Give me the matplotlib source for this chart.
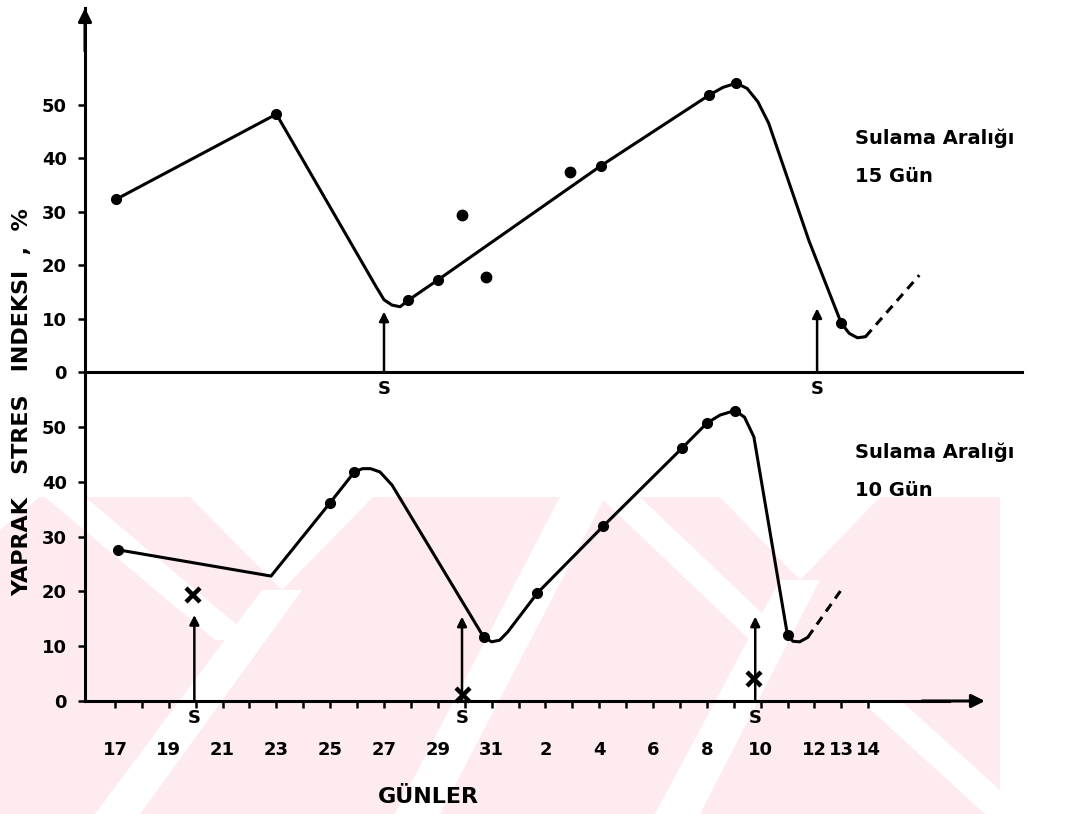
import matplotlib
matplotlib.use("Agg")
import matplotlib.pyplot as plt
from matplotlib.patches import Polygon

plt.rcParams['font.family'] = 'DejaVu Sans'
plt.rcParams['font.weight'] = 'bold'

# days counted from 17th; days of next month are +31 (2 -> 33)
tick_days = [17, 19, 21, 23, 25, 27, 29, 31, 33, 35, 37, 39, 41, 43, 44, 45]
tick_labels = ['17', '19', '21', '23', '25', '27', '29', '31',
               '2', '4', '6', '8', '10', '12', '13', '14']
y_ticks = [0, 10, 20, 30, 40, 50]

# 15 day irrigation interval (top)
top_curve_day = [17.05, 23.0, 26.7, 27.0, 27.3, 27.6, 27.9, 29.0, 35.05, 39.1,
                 39.6, 40.1, 40.5, 40.9, 41.3, 42.8, 44.0, 44.3, 44.6, 44.9]
top_curve_val = [32.3, 48.2, 16.0, 13.5, 12.5, 12.2, 13.4, 17.2, 38.5, 51.8,
                 53.2, 54.0, 53.0, 50.5, 46.5, 24.5, 9.1, 7.2, 6.4, 6.6]
top_dash_day = [44.9, 46.9]
top_dash_val = [6.6, 18.1]
top_pt_day = [17.05, 23.0, 27.9, 29.0, 35.05, 39.1, 40.1, 44.0]
top_pt_val = [32.3, 48.2, 13.4, 17.2, 38.5, 51.8, 54.0, 9.1]
top_extra_day = [29.9, 30.8, 33.9]
top_extra_val = [29.3, 17.8, 37.3]
top_s_day = [27.0, 43.1]
top_s_tip = [11.3, 11.9]

# 10 day irrigation interval (bottom)
bot_curve_day = [17.1, 22.8, 25.0, 25.9, 26.2, 26.5, 26.85, 27.3, 30.7, 31.0,
                 31.3, 31.6, 32.7, 35.15, 38.07, 39.0, 39.5, 40.05, 40.4, 40.75,
                 42.0, 42.2, 42.45, 42.75]
bot_curve_val = [27.6, 22.8, 36.2, 41.8, 42.4, 42.4, 41.8, 39.4, 11.7, 10.8,
                 11.1, 12.6, 19.7, 31.9, 46.1, 50.7, 52.2, 53.0, 51.8, 48.2,
                 12.0, 10.9, 10.8, 11.6]
bot_dash_day = [42.75, 44.0]
bot_dash_val = [11.6, 20.3]
bot_pt_day = [17.1, 25.0, 25.9, 30.7, 32.7, 35.15, 38.07, 39.0, 40.05, 42.0]
bot_pt_val = [27.6, 36.2, 41.8, 11.7, 19.7, 31.9, 46.1, 50.7, 53.0, 12.0]
bot_x_day = [19.9, 29.95, 40.75]
bot_x_val = [19.3, 1.1, 4.1]
bot_s_day = [19.95, 29.9, 40.8]
bot_s_tip = [15.7, 15.4, 15.4]

W, H = 1085, 814
fig = plt.figure(figsize=(W / 100, H / 100), dpi=100)


def fx(x):
    return x / W


def fy(y):
    return 1 - y / H


# faint pink watermark in the background: pink block with white stripes
wm_pink = [[(0, 497), (1000, 497), (1000, 814), (0, 814)]]
wm_white = [
    [(0, 497), (40, 497), (0, 530)],
    [(190, 497), (373, 497), (282, 590)],
    [(262, 590), (302, 590), (140, 814), (95, 814)],
    [(45, 497), (85, 497), (255, 640), (215, 640)],
    [(560, 497), (605, 497), (440, 814), (395, 814)],
    [(720, 497), (880, 497), (800, 580)],
    [(780, 580), (820, 580), (700, 814), (655, 814)],
    [(600, 497), (640, 497), (790, 640), (750, 640)],
    [(860, 700), (900, 700), (1000, 790), (1000, 814), (985, 814)],
]
for shp, col in [(s, '#fdebef') for s in wm_pink] + [(s, 'white') for s in wm_white]:
    fig.patches.append(Polygon([(fx(a), fy(b)) for a, b in shp], closed=True,
                               transform=fig.transFigure, facecolor=col,
                               edgecolor='none', zorder=-5))

xmin, xmax = 15.885, 50.717
ax_top = fig.add_axes([fx(85), fy(372), fx(1022) - fx(85), fy(8) - fy(372)])
ax_bot = fig.add_axes([fx(85), fy(701), fx(1022) - fx(85), fy(372) - fy(701)])

for ax, ytop in [(ax_top, 68.04), (ax_bot, 60.04)]:
    ax.set_facecolor('none')
    ax.set_xlim(xmin, xmax)
    ax.set_ylim(0, ytop)
    ax.spines['top'].set_visible(False)
    ax.spines['right'].set_visible(False)
    ax.spines['left'].set_linewidth(2.2)
    ax.spines['bottom'].set_linewidth(2.2)
    ax.set_yticks(y_ticks)
    ax.tick_params(axis='y', direction='out', length=5, width=1.8, pad=8,
                   labelsize=13)

# top axes
ax_top.set_xticks([])
ax_top.annotate('', xy=(xmin, 68.04), xytext=(xmin, 60), annotation_clip=False,
                arrowprops=dict(arrowstyle='-|>', color='k', lw=2.2,
                                mutation_scale=20, shrinkA=0, shrinkB=0))
ax_top.plot(top_curve_day, top_curve_val, color='k', lw=2.2, solid_capstyle='round')
ax_top.plot(top_dash_day, top_dash_val, color='k', lw=2.2, ls=(0, (3, 2.2)))
ax_top.plot(top_pt_day, top_pt_val, 'o', color='k', ms=7)
ax_top.plot(top_extra_day, top_extra_val, 'o', color='k', ms=7.5)
for d, t in zip(top_s_day, top_s_tip):
    ax_top.annotate('', xy=(d, t), xytext=(d, 0),
                    arrowprops=dict(arrowstyle='-|>', color='k', lw=1.8,
                                    mutation_scale=14, shrinkA=0, shrinkB=0))
    ax_top.annotate('S', xy=(d, 0), xytext=(0, -6), textcoords='offset points',
                    ha='center', va='top', fontsize=13)

# bottom axes
ax_bot.spines['bottom'].set_bounds(xmin, 48.0)
ax_bot.annotate('', xy=(49.34, 0), xytext=(47.0, 0), annotation_clip=False,
                arrowprops=dict(arrowstyle='-|>', color='k', lw=2.2,
                                mutation_scale=20, shrinkA=0, shrinkB=0))
ax_bot.set_xticks(tick_days)
ax_bot.set_xticklabels(tick_labels)
ax_bot.set_xticks(list(range(17, 46)), minor=True)
ax_bot.tick_params(axis='x', which='both', direction='out', length=5, width=1.8)
ax_bot.tick_params(axis='x', which='major', pad=24, labelsize=13)
ax_bot.plot(bot_curve_day, bot_curve_val, color='k', lw=2.2, solid_capstyle='round')
ax_bot.plot(bot_dash_day, bot_dash_val, color='k', lw=2.2, ls=(0, (3, 2.2)))
ax_bot.plot(bot_pt_day, bot_pt_val, 'o', color='k', ms=7)
ax_bot.plot(bot_x_day, bot_x_val, 'x', color='k', ms=10, mew=3.2, clip_on=False)
for d, t in zip(bot_s_day, bot_s_tip):
    ax_bot.annotate('', xy=(d, t), xytext=(d, 0),
                    arrowprops=dict(arrowstyle='-|>', color='k', lw=1.8,
                                    mutation_scale=14, shrinkA=0, shrinkB=0))
    ax_bot.annotate('S', xy=(d, 0), xytext=(0, -6), textcoords='offset points',
                    ha='center', va='top', fontsize=13)

# texts
fig.text(fx(855), fy(138), 'Sulama Aralığı', fontsize=14, va='center', ha='left')
fig.text(fx(855), fy(176), '15 Gün', fontsize=14, va='center', ha='left')
fig.text(fx(855), fy(452), 'Sulama Aralığı', fontsize=14, va='center', ha='left')
fig.text(fx(855), fy(491), '10 Gün', fontsize=14, va='center', ha='left')
fig.text(fx(22), fy(402), 'YAPRAK   STRES   INDEKSI  ,  %', rotation=90,
         fontsize=16, ha='center', va='center')
fig.text(fx(428), fy(797), 'GÜNLER', fontsize=16, ha='center', va='center')

fig.savefig('out.png', dpi=100, facecolor='white')
